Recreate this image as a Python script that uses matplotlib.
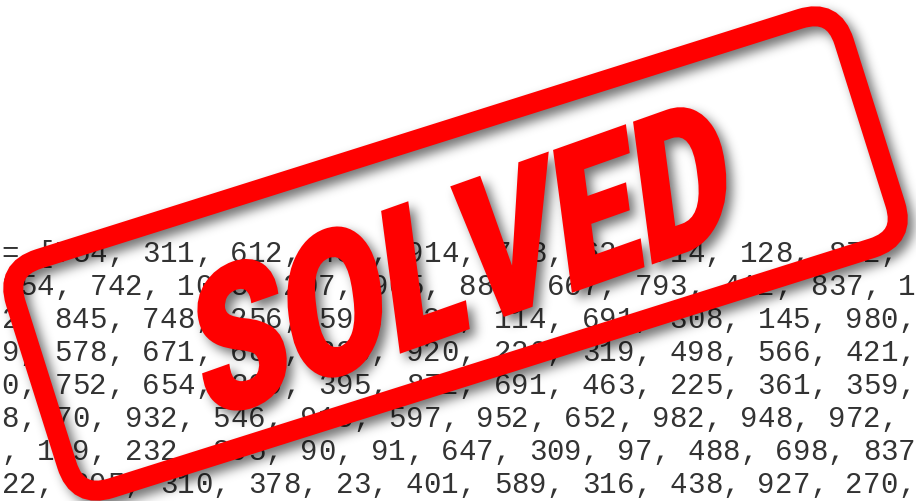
"""A 'SOLVED' rubber stamp laid over a block of monospaced numbers."""

import numpy as np
import matplotlib

matplotlib.use("Agg")
import matplotlib.pyplot as plt
from matplotlib.font_manager import FontProperties
from matplotlib.patches import FancyBboxPatch, PathPatch
from matplotlib.textpath import TextPath
from matplotlib.transforms import Affine2D

# --- content -----------------------------------------------------------
LINES = [
    "= [754, 311, 612, 431, 914, 778, 62, 714, 128, 872,",
    "254, 742, 1005, 207, 905, 881, 667, 793, 412, 837, 1",
    "2, 845, 748, 256, 598, 823, 114, 691, 308, 145, 980,",
    "9, 578, 671, 685, 236, 920, 220, 319, 498, 566, 421,",
    "0, 752, 654, 309, 395, 872, 691, 463, 225, 361, 359,",
    "8, 70, 932, 546, 915, 597, 952, 652, 982, 948, 972,",
    ", 119, 232, 895, 90, 91, 647, 309, 97, 488, 698, 837",
    "22, 295, 310, 378, 23, 401, 589, 316, 438, 927, 270,",
]
STAMP_LABEL = "SOLVED"

# --- layout (pixels, y measured from the bottom) ------------------------
W_PX, H_PX = 916, 501
CELL_W = 17.58
LEFT = 1.5
FIRST_BASELINE = 262
LINE_STEP = 33
TEXT_SIZE = 21

STAMP_RED = "#ff0000"
BAND_CENTER = (455.5, H_PX - 253.5)
BAND_ANGLE = 17.5
BAND_W, BAND_H = 868.5, 240.4
BAND_LW_PX = 20
BAND_RADIUS = 35

LABEL_CENTER = (462, H_PX - 257)
LABEL_ANGLE = 19.5
LABEL_W, LABEL_H = 555, 142
LABEL_SHEAR = 12


def _blur(a, sigma):
    r = int(3 * sigma)
    k = np.exp(-0.5 * (np.arange(-r, r + 1) / sigma) ** 2)
    k /= k.sum()
    a = np.apply_along_axis(lambda m: np.convolve(m, k, mode="same"), 0, a)
    a = np.apply_along_axis(lambda m: np.convolve(m, k, mode="same"), 1, a)
    return a


def drop_shadow(sigma=5.5, dx=6, dy=6, alpha=0.55):
    def _filter(im, dpi):
        pad = int(3 * sigma + max(abs(dx), abs(dy)))
        src = np.pad(im, [(pad, pad), (pad, pad), (0, 0)])
        out = np.zeros_like(src)
        a = _blur(src[:, :, 3], sigma) * alpha
        a = np.roll(np.roll(a, dx, axis=1), dy, axis=0)
        out[:, :, 3] = np.clip(a, 0, 1)
        return out, -pad, -pad
    return _filter


def band_patch(ax, color, zorder):
    tr = Affine2D().rotate_deg(BAND_ANGLE).translate(*BAND_CENTER) + ax.transData
    return FancyBboxPatch(
        (-BAND_W / 2, -BAND_H / 2), BAND_W, BAND_H,
        boxstyle=f"round,pad=0,rounding_size={BAND_RADIUS}",
        fill=False, ec=color, lw=BAND_LW_PX * 72 / 100,
        transform=tr, zorder=zorder,
    )


def label_path():
    fp = FontProperties(family=["Roboto", "DejaVu Sans"], weight="black")
    tp = TextPath((0, 0), STAMP_LABEL, size=100, prop=fp)
    ext = tp.get_extents()
    tr = (
        Affine2D()
        .translate(-(ext.x0 + ext.x1) / 2, -(ext.y0 + ext.y1) / 2)
        .scale(LABEL_W / ext.width, LABEL_H / ext.height)
        .skew_deg(LABEL_SHEAR, 0)
        .rotate_deg(LABEL_ANGLE)
        .translate(*LABEL_CENTER)
    )
    return tr.transform_path(tp)


fig = plt.figure(figsize=(W_PX / 100, H_PX / 100), dpi=100)
fig.patch.set_facecolor("white")
ax = fig.add_axes([0, 0, 1, 1])
ax.set_xlim(0, W_PX)
ax.set_ylim(0, H_PX)
ax.axis("off")

# numbers, one character per monospace cell
for row, line in enumerate(LINES):
    y = H_PX - (FIRST_BASELINE + row * LINE_STEP)
    for i, ch in enumerate(line):
        if ch == " ":
            continue
        ax.text(
            LEFT + (i + 0.5) * CELL_W, y, ch,
            ha="center", va="baseline",
            family="Liberation Mono", fontsize=TEXT_SIZE, color="#333333",
            zorder=1,
        )

# stamp shadow
shadow_band = band_patch(ax, "black", 2)
shadow_band.set_agg_filter(drop_shadow())
ax.add_patch(shadow_band)

path = label_path()
shadow_label = PathPatch(path, fc="black", ec="black", lw=2, zorder=2)
shadow_label.set_agg_filter(drop_shadow())
ax.add_patch(shadow_label)

# stamp itself
ax.add_patch(band_patch(ax, STAMP_RED, 3))
ax.add_patch(PathPatch(path, fc=STAMP_RED, ec=STAMP_RED, lw=2, zorder=3))

fig.savefig("out.png", dpi=100, facecolor="white")
